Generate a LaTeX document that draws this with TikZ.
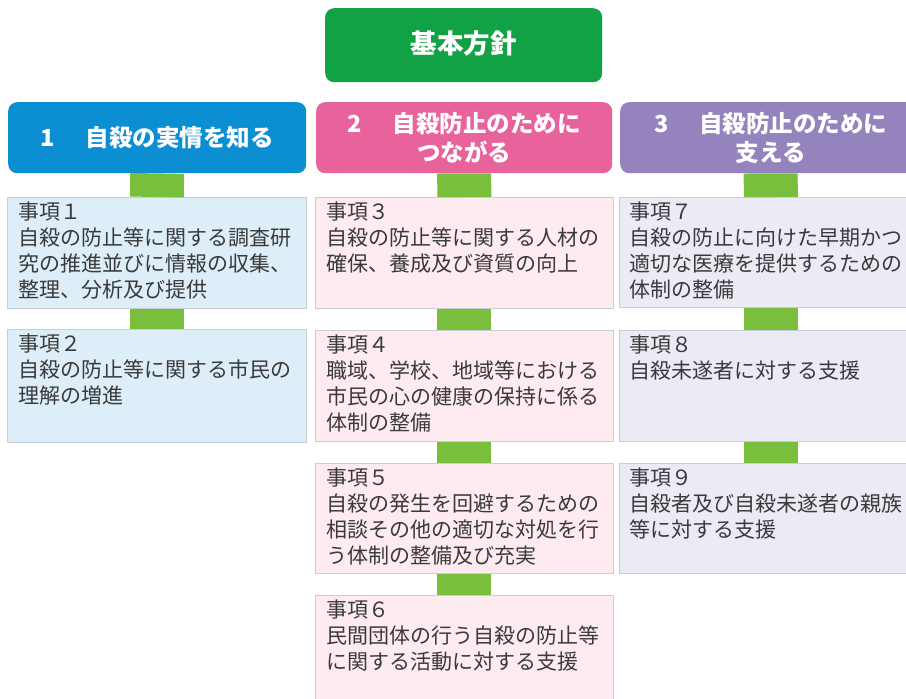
\documentclass[tikz,border=0pt]{standalone}
\usepackage{fontspec}
\newfontfamily\jp{Noto Sans CJK JP}
\definecolor{topgreen}{RGB}{18,162,70}
\definecolor{hblue}{RGB}{12,142,211}
\definecolor{hpink}{RGB}{232,98,155}
\definecolor{hpurple}{RGB}{149,131,190}
\definecolor{bargreen}{RGB}{121,190,60}
\definecolor{fillA}{RGB}{221,238,249}
\definecolor{fillB}{RGB}{253,235,239}
\definecolor{fillC}{RGB}{235,235,245}
\definecolor{edge}{RGB}{200,205,214}
\definecolor{txtc}{RGB}{58,58,58}
\tikzset{
  hdr/.style={rounded corners=9pt, draw=none, anchor=north west, inner sep=0pt},
  itembox/.style={draw=edge, line width=0.6pt, anchor=north west, inner sep=0pt},
  bar/.style={draw=bargreen, line width=54pt, line cap=butt},
  itemtxt/.style={anchor=north west, inner sep=0pt, align=left, text=txtc,
     font=\jp\fontsize{21}{25.8}\selectfont},
  hdrtxt/.style={text=white, align=center, inner sep=0pt,
     font=\jp\bfseries\fontsize{23.5}{29}\selectfont}
}
\begin{document}
\begin{tikzpicture}[x=1pt,y=-1pt]
\useasboundingbox (0,0) rectangle (906,699);
\clip (0,0) rectangle (906,699);
% top
\node[hdr, fill=topgreen, minimum width=277pt, minimum height=74pt] (top) at (325,8) {};
\node[hdrtxt, font=\jp\bfseries\fontsize{26.5}{30}\selectfont] (toptxt) at ([yshift=2pt]top.center) {基本方針};
% headers
\node[hdr, fill=hblue, minimum width=298pt, minimum height=71pt] (h1) at (8,102) {};
\node[hdr, fill=hpink, minimum width=296pt, minimum height=71pt] (h2) at (316,102) {};
\node[hdr, fill=hpurple, minimum width=301pt, minimum height=71pt] (h3) at (620,102) {};
\node[hdrtxt] (h1t) at (h1.center) {1\hspace{1.3em}自殺の実情を知る};
\node[hdrtxt] (h2t) at (h2.center) {2\hspace{1.3em}自殺防止のために\\つながる};
\node[hdrtxt] (h3t) at (h3.center) {3\hspace{1.3em}自殺防止のために\\支える};
% boxes
\node[itembox, fill=fillA, minimum width=299pt, minimum height=111pt] (b1) at (7,197) {};
\node[itembox, fill=fillA, minimum width=299pt, minimum height=113pt] (b2) at (7,329) {};
\node[itembox, fill=fillB, minimum width=298pt, minimum height=111pt] (b3) at (315,197) {};
\node[itembox, fill=fillB, minimum width=298pt, minimum height=111pt] (b4) at (315,330) {};
\node[itembox, fill=fillB, minimum width=298pt, minimum height=110pt] (b5) at (315,463) {};
\node[itembox, fill=fillB, minimum width=298pt, minimum height=125pt] (b6) at (315,595) {};
\node[itembox, fill=fillC, minimum width=303pt, minimum height=110pt] (b7) at (619,197) {};
\node[itembox, fill=fillC, minimum width=303pt, minimum height=111pt] (b8) at (619,330) {};
\node[itembox, fill=fillC, minimum width=303pt, minimum height=110pt] (b9) at (619,463) {};
% bars
\draw[bar] (h1.south) -- (b1.north);
\draw[bar] (b1.south) -- (b2.north);
\draw[bar] (h2.south) -- (b3.north);
\draw[bar] (b3.south) -- (b4.north);
\draw[bar] (b4.south) -- (b5.north);
\draw[bar] (b5.south) -- (b6.north);
\draw[bar] (h3.south) -- (b7.north);
\draw[bar] (b7.south) -- (b8.north);
\draw[bar] (b8.south) -- (b9.north);
% texts
\node[itemtxt] (t1) at ([xshift=11pt,yshift=-5pt]b1.north west) {事項１\\自殺の防止等に関する調査研\\究の推進並びに情報の収集、\\整理、分析及び提供};
\node[itemtxt] (t2) at ([xshift=11pt,yshift=-5pt]b2.north west) {事項２\\自殺の防止等に関する市民の\\理解の増進};
\node[itemtxt] (t3) at ([xshift=11pt,yshift=-5pt]b3.north west) {事項３\\自殺の防止等に関する人材の\\確保、養成及び資質の向上};
\node[itemtxt] (t4) at ([xshift=11pt,yshift=-5pt]b4.north west) {事項４\\職域、学校、地域等における\\市民の心の健康の保持に係る\\体制の整備};
\node[itemtxt] (t5) at ([xshift=11pt,yshift=-5pt]b5.north west) {事項５\\自殺の発生を回避するための\\相談その他の適切な対処を行\\う体制の整備及び充実};
\node[itemtxt] (t6) at ([xshift=11pt,yshift=-5pt]b6.north west) {事項６\\民間団体の行う自殺の防止等\\に関する活動に対する支援};
\node[itemtxt] (t7) at ([xshift=10pt,yshift=-5pt]b7.north west) {事項７\\自殺の防止に向けた早期かつ\\適切な医療を提供するための\\体制の整備};
\node[itemtxt] (t8) at ([xshift=10pt,yshift=-5pt]b8.north west) {事項８\\自殺未遂者に対する支援};
\node[itemtxt] (t9) at ([xshift=10pt,yshift=-5pt]b9.north west) {事項９\\自殺者及び自殺未遂者の親族\\等に対する支援};
\end{tikzpicture}
\end{document}
